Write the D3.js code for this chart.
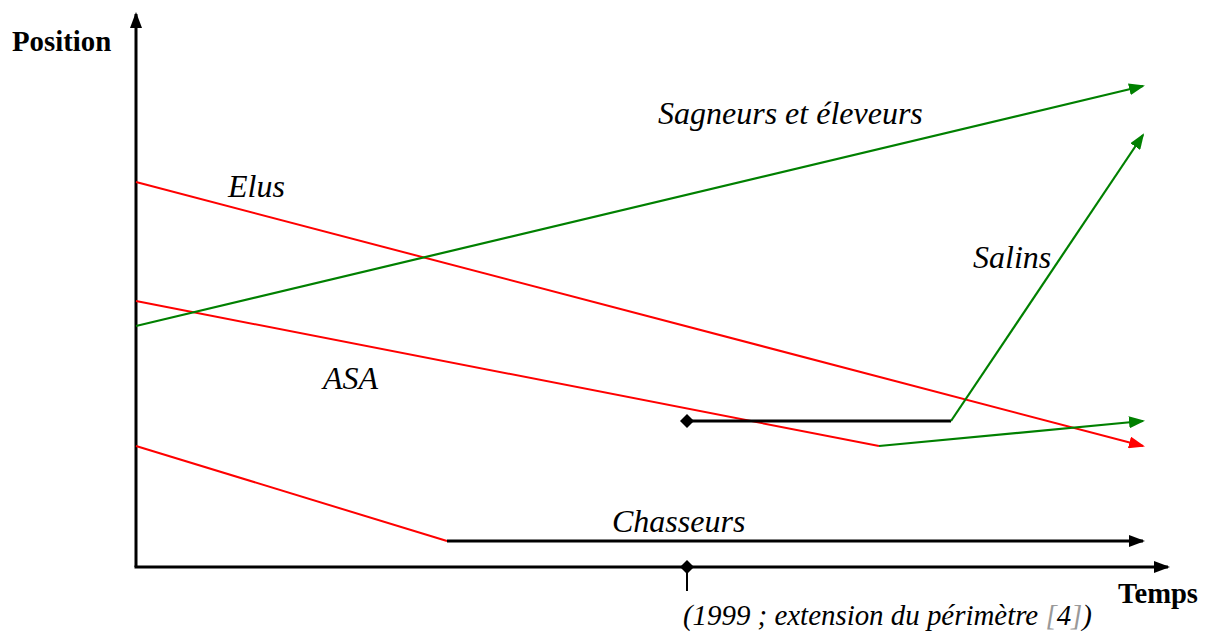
<!DOCTYPE html>
<html><head><meta charset="utf-8">
<script src="https://cdn.jsdelivr.net/npm/d3@7"></script>
<style>body{margin:0;background:#fff}svg{display:block}</style>
</head><body>
<svg id="c" width="1210" height="635"></svg>
<script>
// Time (arbitrary units) and position (arbitrary units)
const eventTime = 551; // 1999 ; extension du périmètre
const elusT = [0, 1007];            const elusP = [385, 121];
const asaT = [0, 743];              const asaP = [266, 121];
const asaAfterT = [743, 1007];      const asaAfterP = [121, 146];
const sagneursT = [0, 1007];        const sagneursP = [241, 481];
const salinsBeforeT = [551, 815];   const salinsBeforeP = [146, 146];
const salinsT = [815, 1007];        const salinsP = [146, 432];
const chasseursT = [0, 311];        const chasseursP = [121, 26];
const chasseursAfterT = [311, 1007];const chasseursAfterP = [26, 26];
const labels = [
  {text:"Sagneurs et éleveurs", t:522, p:443},
  {text:"Elus", t:92, p:370},
  {text:"Salins", t:837, p:299},
  {text:"ASA", t:187, p:178},
  {text:"Chasseurs", t:476, p:35}
];

const svg = d3.select("#c");
const x = d3.scaleLinear().domain([0, 1032]).range([136, 1168]);
const y = d3.scaleLinear().domain([0, 553]).range([567, 14]);

const defs = svg.append("defs");
function marker(id, color){
  defs.append("marker").attr("id", id).attr("viewBox","0 0 16 12")
    .attr("refX",14).attr("refY",6).attr("markerWidth",16).attr("markerHeight",12)
    .attr("markerUnits","userSpaceOnUse").attr("orient","auto")
    .append("path").attr("d","M0,0 L16,6 L0,12 Z").attr("fill",color);
}
marker("ar","#ff0000"); marker("ag","#008000"); marker("ak","#000");
marker("axk","#000");

const line = d3.line().x(d=>x(d[0])).y(d=>y(d[1]));
function seg(T, P, color, w, mk){
  const p = svg.append("path").datum(d3.zip(T,P)).attr("d", line)
    .attr("fill","none").attr("stroke",color).attr("stroke-width",w);
  if (mk) p.attr("marker-end","url(#"+mk+")");
  return p;
}

// axes
svg.append("line").attr("x1",x(0)).attr("y1",y(0)).attr("x2",x(0)).attr("y2",y(553))
  .attr("stroke","#000").attr("stroke-width",3).attr("marker-end","url(#axk)");
svg.append("line").attr("x1",x(0)-1.5).attr("y1",y(0)).attr("x2",x(1032)).attr("y2",y(0))
  .attr("stroke","#000").attr("stroke-width",3).attr("marker-end","url(#axk)");

// event tick
svg.append("line").attr("x1",x(eventTime)).attr("x2",x(eventTime)).attr("y1",y(0)).attr("y2",y(0)+24)
  .attr("stroke","#000").attr("stroke-width",2);
function diamond(t,p){
  const cx=x(t), cy=y(p), r=7;
  svg.append("path").attr("d",`M${cx-r},${cy} L${cx},${cy-r} L${cx+r},${cy} L${cx},${cy+r} Z`).attr("fill","#000");
}
diamond(eventTime, 0);

// series
seg(elusT, elusP, "#ff0000", 2, "ar");
seg(asaT, asaP, "#ff0000", 2);
seg(asaAfterT, asaAfterP, "#008000", 2.2, "ag");
seg(sagneursT, sagneursP, "#008000", 2.2, "ag");
seg(salinsBeforeT, salinsBeforeP, "#000", 3);
seg(salinsT, salinsP, "#008000", 2.2, "ag");
diamond(salinsBeforeT[0], salinsBeforeP[0]);
seg(chasseursT, chasseursP, "#ff0000", 2);
seg(chasseursAfterT, chasseursAfterP, "#000", 3, "ak");

// labels
svg.selectAll("text.lab").data(labels).join("text").attr("class","lab")
  .attr("x",d=>x(d.t)).attr("y",d=>y(d.p))
  .attr("font-family","'Liberation Serif','Times New Roman',serif")
  .attr("font-style","italic").attr("font-size",32).text(d=>d.text);

svg.append("text").attr("x",12).attr("y",51).attr("font-family","'Liberation Serif',serif")
  .attr("font-weight","bold").attr("font-size",28.8).text("Position");
svg.append("text").attr("x",1118).attr("y",603).attr("font-family","'Liberation Serif',serif")
  .attr("font-weight","bold").attr("font-size",28.6).text("Temps");
const ev = svg.append("text").attr("x",683).attr("y",625).attr("font-family","'Liberation Serif',serif")
  .attr("font-style","italic").attr("font-size",28.9);
ev.append("tspan").text("(1999 ; extension du périmètre ");
ev.append("tspan").attr("fill","#999").text("[");
ev.append("tspan").text("4");
ev.append("tspan").attr("fill","#999").text("]");
ev.append("tspan").text(")");
</script>
</body></html>
